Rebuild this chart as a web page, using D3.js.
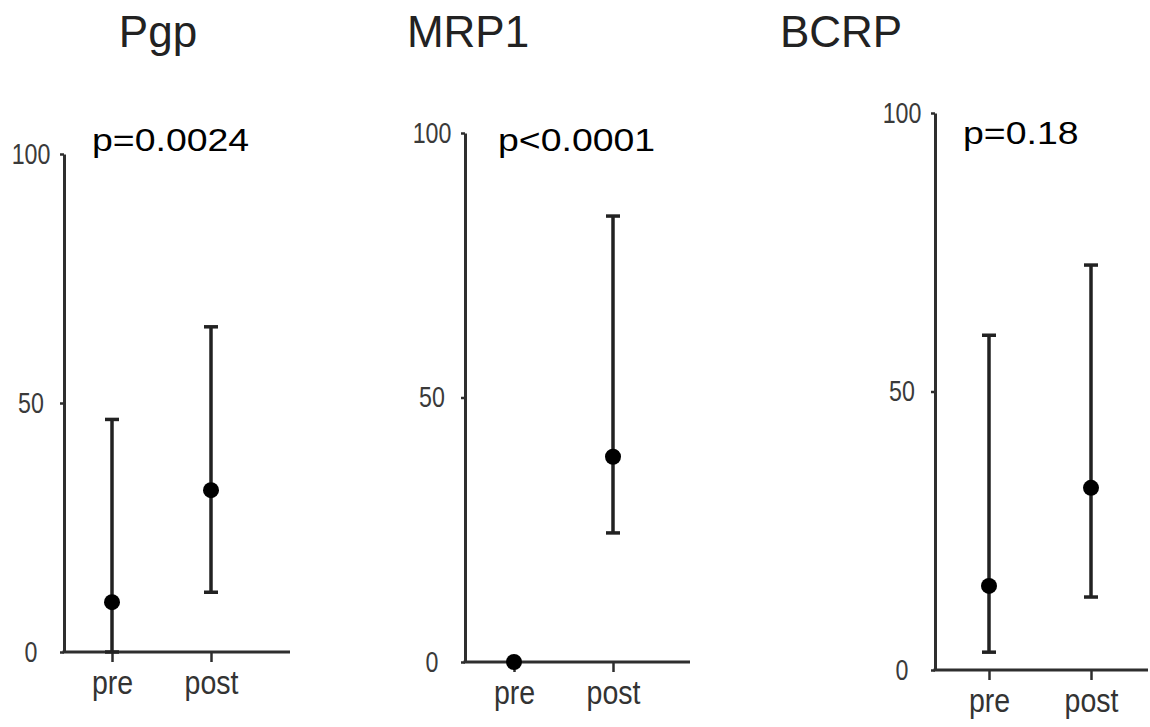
<!DOCTYPE html>
<html>
<head>
<meta charset="utf-8">
<script src="https://cdn.jsdelivr.net/npm/d3@7"></script>
<style>
  body { margin: 0; background: #fff; }
  svg { display: block; }
</style>
</head>
<body>
<svg id="chart"></svg>
<script>
// data
const panelNames = ['Pgp', 'MRP1', 'BCRP'];
const pLabels = ['p=0.0024', 'p<0.0001', 'p=0.18'];
const groups = ['pre', 'post'];
const medians = [[10, 32.5], [0, 38.8], [15.1, 32.7]];
const lowers = [[0, 12], [0, 24.4], [3.2, 13.1]];
const uppers = [[46.7, 65.3], [0, 84.3], [60.1, 72.7]];
const yTicks = [0, 50, 100];

// layout of each panel (pixels)
const frames = [
  { axisX: 64, endX: 290, preX: 112, postX: 211, y0: 652, y100: 154, titleX: 158, pX: 92, pY: 151 },
  { axisX: 465, endX: 690, preX: 514, postX: 613, y0: 662, y100: 133, titleX: 468, pX: 498, pY: 151 },
  { axisX: 935, endX: 1148, preX: 989, postX: 1091, y0: 670, y100: 113, titleX: 841, pX: 963, pY: 144 }
];

const W = 1150, H = 727;
const svg = d3.select('#chart').attr('width', W).attr('height', H);

const axisColor = '#2e2e2e';
const sans = '"Liberation Sans", Arial, sans-serif';

frames.forEach((f, i) => {
  const g = svg.append('g');

  const y = d3.scaleLinear().domain([0, 100]).range([f.y0, f.y100]);
  const x = d3.scalePoint().domain(groups).range([f.preX, f.postX]);

  // title
  g.append('text')
    .attr('x', f.titleX).attr('y', 47)
    .attr('text-anchor', 'middle')
    .style('font-family', sans)
    .style('font-size', '44px')
    .attr('fill', '#222')
    .text(panelNames[i]);

  // p value (wide lettering in the original)
  g.append('text')
    .attr('transform', 'translate(' + f.pX + ',' + f.pY + ') scale(1.17,1)')
    .style('font-family', sans)
    .style('font-size', '32px')
    .attr('fill', '#000')
    .text(pLabels[i]);

  // y axis (narrow tick labels)
  const yAxis = g.append('g')
    .attr('transform', 'translate(' + f.axisX + ',0)')
    .call(d3.axisLeft(y).tickValues(yTicks).tickSize(4).tickSizeOuter(0).tickFormat(d3.format('d')));
  yAxis.select('.domain').attr('stroke', axisColor).attr('stroke-width', 3);
  yAxis.selectAll('.tick line').attr('stroke', axisColor).attr('stroke-width', 2.5);
  yAxis.selectAll('.tick text')
    .attr('x', 0)
    .attr('transform', 'translate(-33,0) scale(0.8,1)')
    .attr('text-anchor', 'middle')
    .style('font-family', sans)
    .style('font-size', '29px')
    .attr('fill', '#3a3a3a');

  // x axis
  const xAxis = g.append('g')
    .attr('transform', 'translate(0,' + f.y0 + ')')
    .call(d3.axisBottom(x).tickSize(10).tickPadding(8));
  xAxis.select('.domain').remove();
  xAxis.append('line')
    .attr('x1', f.axisX - 1.5).attr('x2', f.endX)
    .attr('stroke', axisColor).attr('stroke-width', 3);
  xAxis.selectAll('.tick line').attr('stroke', axisColor).attr('stroke-width', 2.5);
  xAxis.selectAll('.tick text')
    .attr('transform', 'scale(0.84,1)')
    .style('font-family', sans)
    .style('font-size', '34px')
    .attr('fill', '#333');

  // error bars and medians
  const rows = groups.map((grp, j) => ({
    grp: grp, med: medians[i][j], lo: lowers[i][j], hi: uppers[i][j]
  }));

  const bars = g.selectAll('.bar').data(rows.filter(d => d.hi > d.lo)).enter().append('g');
  bars.append('line')
    .attr('x1', d => x(d.grp)).attr('x2', d => x(d.grp))
    .attr('y1', d => y(d.lo)).attr('y2', d => y(d.hi))
    .attr('stroke', '#222').attr('stroke-width', 3.5);
  bars.append('line')
    .attr('x1', d => x(d.grp) - 7).attr('x2', d => x(d.grp) + 7)
    .attr('y1', d => y(d.hi)).attr('y2', d => y(d.hi))
    .attr('stroke', '#222').attr('stroke-width', 3.5);
  bars.append('line')
    .attr('x1', d => x(d.grp) - 7).attr('x2', d => x(d.grp) + 7)
    .attr('y1', d => y(d.lo)).attr('y2', d => y(d.lo))
    .attr('stroke', '#222').attr('stroke-width', 3.5);

  g.selectAll('.dot').data(rows).enter().append('circle')
    .attr('cx', d => x(d.grp))
    .attr('cy', d => y(d.med))
    .attr('r', 8)
    .attr('fill', '#000');
});
</script>
</body>
</html>
